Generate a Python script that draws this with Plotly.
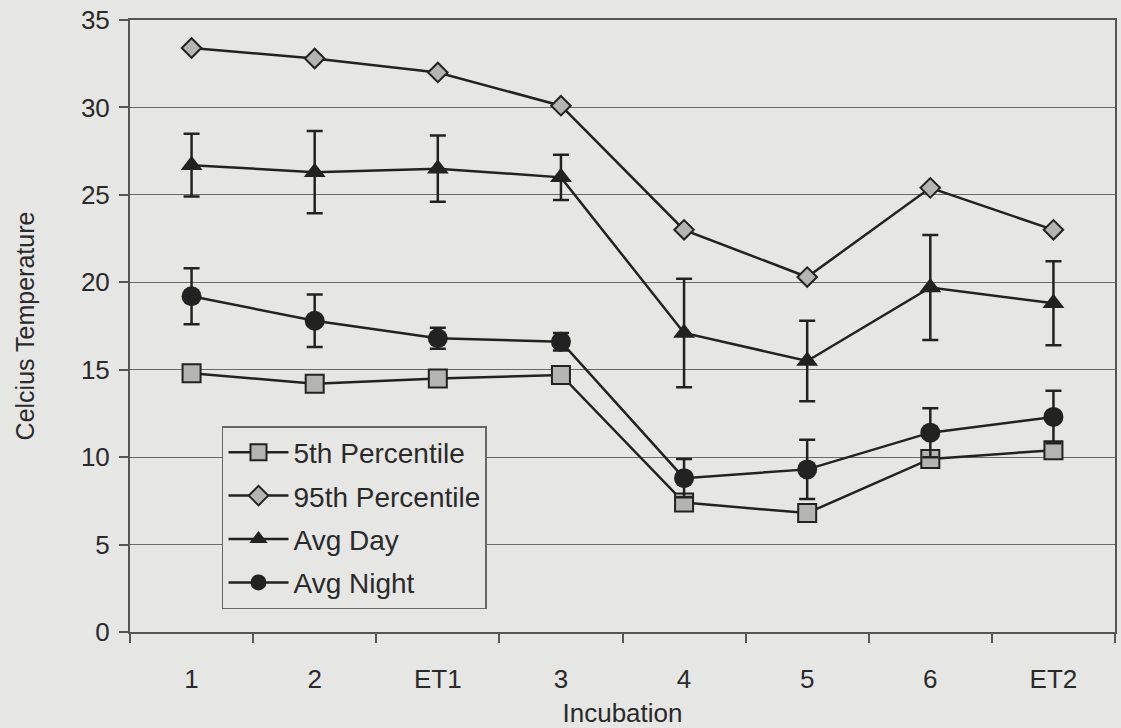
import plotly.graph_objects as go

categories = ["1", "2", "ET1", "3", "4", "5", "6", "ET2"]
p5 = [14.8, 14.2, 14.5, 14.7, 7.4, 6.8, 9.9, 10.4]
p95 = [33.4, 32.8, 32.0, 30.1, 23.0, 20.3, 25.4, 23.0]
avg_day = [26.7, 26.3, 26.5, 26.0, 17.1, 15.5, 19.7, 18.8]
avg_day_err = [1.8, 2.35, 1.9, 1.3, 3.1, 2.3, 3.0, 2.4]
avg_night = [19.2, 17.8, 16.8, 16.6, 8.8, 9.3, 11.4, 12.3]
avg_night_err = [1.6, 1.5, 0.6, 0.5, 1.1, 1.7, 1.4, 1.5]

ink = "#222222"
bg = "#e6e6e4"

fig = go.Figure()
fig.add_trace(go.Scatter(
    x=categories, y=p5, name="5th Percentile", mode="lines+markers",
    line=dict(color=ink, width=2.5), legendgroup="a",
    marker=dict(symbol="square", size=18, color="#b4b4b2", line=dict(color=ink, width=2))))
fig.add_trace(go.Scatter(
    x=categories, y=p95, name="95th Percentile", mode="lines+markers",
    line=dict(color=ink, width=2.5), legendgroup="b",
    marker=dict(symbol="diamond", size=15, color="#b4b4b2", line=dict(color=ink, width=2))))
fig.add_trace(go.Scatter(
    x=categories, y=avg_day, name="Avg Day", mode="lines+markers",
    line=dict(color=ink, width=2.5), legendgroup="c",
    error_y=dict(type="data", array=avg_day_err, color=ink, thickness=2.5, width=8),
    marker=dict(symbol="triangle-up", size=19, color=ink)))
fig.add_trace(go.Scatter(
    x=categories, y=avg_night, name="Avg Night", mode="lines+markers",
    line=dict(color=ink, width=2.5), legendgroup="d",
    error_y=dict(type="data", array=avg_night_err, color=ink, thickness=2.5, width=8),
    marker=dict(symbol="circle", size=20, color=ink)))

font_family = "Liberation Sans, Arial, sans-serif"
fig.update_layout(
    width=1121, height=728,
    margin=dict(l=130, r=6, t=20, b=96),
    paper_bgcolor=bg, plot_bgcolor=bg,
    font=dict(family=font_family, size=26, color="#2a2a2a"),
    legend=dict(
        x=0.0934, y=0.3366, xanchor="left", yanchor="top",
        bgcolor=bg, bordercolor="#666666", borderwidth=1.5,
        font=dict(size=28, color="#2a2a2a"),
        itemwidth=60,
        tracegroupgap=4, traceorder="grouped"),
    xaxis=dict(
        type="category", tickson="boundaries", ticks="outside", ticklen=9,
        tickcolor="#555555", tickwidth=1.5, automargin=False,
        showline=True, linecolor="#555555", linewidth=2, mirror=True,
        showgrid=False, ticklabelstandoff=23,
        title=dict(text="Incubation", font=dict(size=26), standoff=13),
        range=[-0.5, 7.5]),
    yaxis=dict(
        range=[0, 35], tickvals=[0, 5, 10, 15, 20, 25, 30, 35],
        ticks="outside", ticklen=9, tickcolor="#555555", tickwidth=1.5,
        showline=True, linecolor="#555555", linewidth=2, mirror=True,
        showgrid=True, gridcolor="#6a6a6a", gridwidth=1, automargin=False,
        zeroline=False, ticklabelstandoff=4,
        title=dict(text="Celcius Temperature", font=dict(size=25), standoff=39)),
)

fig.write_html("out.html")
